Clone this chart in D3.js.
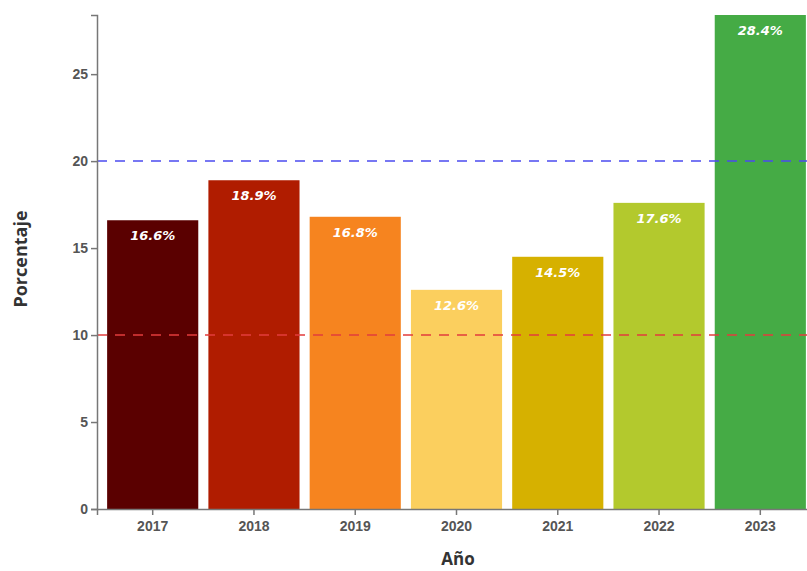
<!DOCTYPE html>
<html>
<head>
<meta charset="utf-8">
<script src="https://cdn.jsdelivr.net/npm/d3@7"></script>
<style>
  body { margin: 0; background: #fff; }
  svg { display: block; }
  .axis text { font-family: "Liberation Sans", Arial, sans-serif; font-weight: bold; font-size: 14px; fill: #555; }
  .axis path, .axis line { stroke: #777; stroke-width: 1.5; }
</style>
</head>
<body>
<svg id="chart" width="807" height="571"></svg>
<script>
var years = ["2017", "2018", "2019", "2020", "2021", "2022", "2023"];
var values = [16.6, 18.9, 16.8, 12.6, 14.5, 17.6, 28.4];
var barColors = ["#5a0000", "#b01c00", "#f6841f", "#fbcf5e", "#d6b100", "#b3c92d", "#45ab45"];
var yTicks = [0, 5, 10, 15, 20, 25];
var refLines = [
  {value: 20, color: "#4b4bf0"},
  {value: 10, color: "#e23c3c"}
];

var svg = d3.select("#chart");
var plotLeft = 97, plotTop = 15, plotBottom = 509, plotRight = 816;

var x = d3.scaleBand()
    .domain(years)
    .range([plotLeft, plotRight])
    .padding(0.1);

var y = d3.scaleLinear()
    .domain([0, d3.max(values)])
    .range([plotBottom, plotTop]);

// bars
svg.selectAll("rect.bar")
    .data(values)
    .enter()
    .append("rect")
    .attr("class", "bar")
    .attr("x", function(d, i) { return x(years[i]); })
    .attr("y", function(d) { return y(d); })
    .attr("width", x.bandwidth())
    .attr("height", function(d) { return y(0) - y(d); })
    .attr("fill", function(d, i) { return barColors[i]; });

// value labels
svg.selectAll("text.val")
    .data(values)
    .enter()
    .append("text")
    .attr("class", "val")
    .attr("x", function(d, i) { return x(years[i]) + x.bandwidth() / 2; })
    .attr("y", function(d) { return y(d) + 20; })
    .attr("text-anchor", "middle")
    .style("font-family", "'DejaVu Sans', Verdana, sans-serif")
    .style("font-weight", "bold")
    .style("font-style", "italic")
    .style("font-size", "13px")
    .style("fill", "#fff")
    .text(function(d) { return d.toFixed(1) + "%"; });

// reference lines
svg.selectAll("line.ref")
    .data(refLines)
    .enter()
    .append("line")
    .attr("class", "ref")
    .attr("x1", plotLeft)
    .attr("x2", plotRight)
    .attr("y1", function(d) { return y(d.value); })
    .attr("y2", function(d) { return y(d.value); })
    .attr("stroke", function(d) { return d.color; })
    .attr("stroke-width", 1.5)
    .attr("stroke-dasharray", "10,8");

// axes
svg.append("g")
    .attr("class", "axis")
    .attr("transform", "translate(0," + plotBottom + ")")
    .call(d3.axisBottom(x).tickSize(6).tickPadding(6));

svg.append("g")
    .attr("class", "axis")
    .attr("transform", "translate(" + plotLeft + ",0)")
    .call(d3.axisLeft(y).tickValues(yTicks).tickSize(6).tickPadding(3));

// axis titles
svg.append("text")
    .attr("x", 458)
    .attr("y", 565)
    .attr("text-anchor", "middle")
    .style("font-family", "'Open Sans', sans-serif")
    .style("font-weight", "bold")
    .style("font-size", "17px")
    .style("fill", "#333")
    .text("Año");

svg.append("text")
    .attr("transform", "translate(27,259) rotate(-90)")
    .attr("text-anchor", "middle")
    .style("font-family", "'Open Sans', sans-serif")
    .style("font-weight", "bold")
    .style("font-size", "18px")
    .style("fill", "#333")
    .text("Porcentaje");
</script>
</body>
</html>
